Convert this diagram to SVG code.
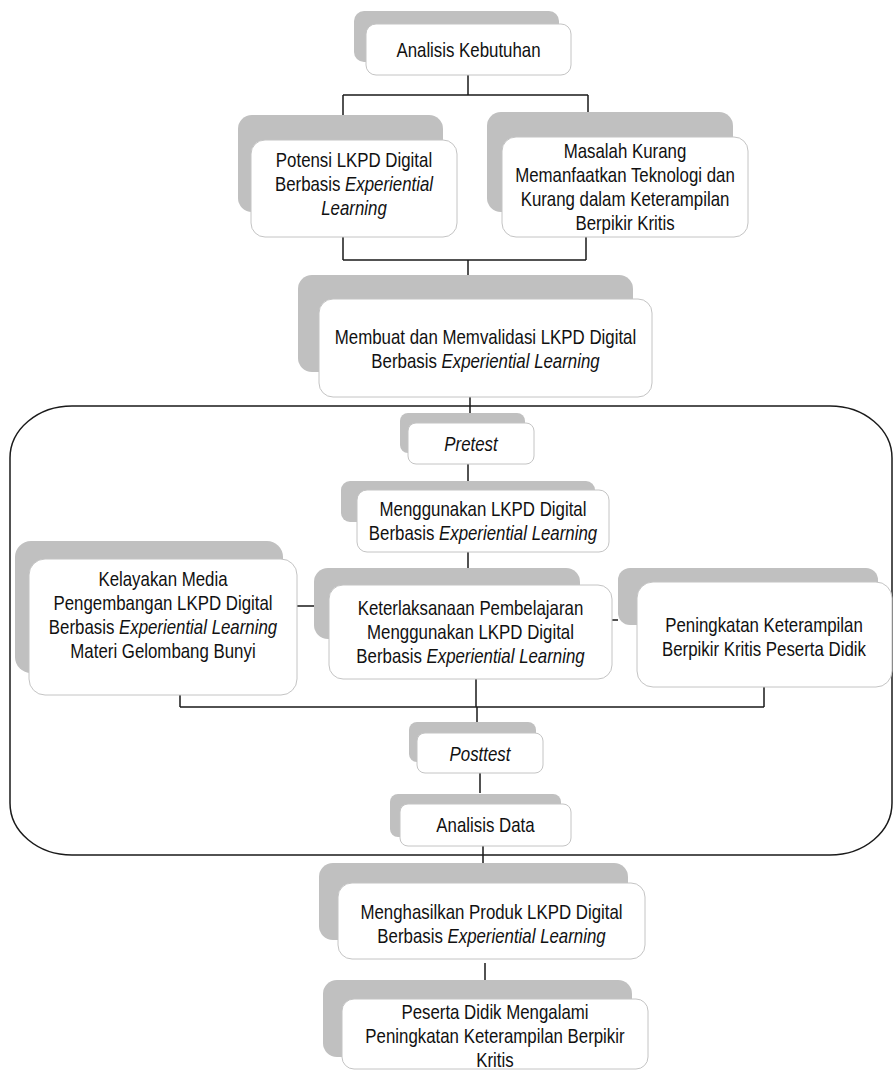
<svg xmlns="http://www.w3.org/2000/svg" width="893" height="1071" viewBox="0 0 893 1071">
<style>
.bk{fill:#c0c0c0;stroke:none}
.fr{fill:#ffffff;stroke:#c4c4c4;stroke-width:1}
.t{font-family:"Liberation Sans",Arial,sans-serif;font-size:20.3px;fill:#111;text-anchor:middle}
.i{font-style:italic}
.c{stroke:#1a1a1a;stroke-width:1.5;fill:none}
</style>
<rect width="893" height="1071" fill="#ffffff"/>
<g id="connectors">
<path class="c" d="M468 75V95M343 95H588M343 95V115M588 95V112"/>
<path class="c" d="M343 237V260M586 237V260M343 260H586M468 260V275"/>
<path class="c" d="M470 397V413M468 464V481M468 552V568"/>
<path class="c" d="M297 606H314M612 620H618"/>
<path class="c" d="M180 695V707M476 679V707M764 687V707M180 707H764M477 707V722"/>
<path class="c" d="M480 773V793M483 846V863M485 963V980"/>
</g>
<g id="container">
<rect x="10" y="406" width="882" height="449" rx="62" ry="52" fill="none" stroke="#1a1a1a" stroke-width="1.5"/>
</g>
<g id="n1">
<rect class="bk" x="354" y="11" width="205" height="51" rx="10"/>
<rect class="fr" x="366" y="24" width="205" height="51" rx="10"/>
<g transform="translate(468.5 0) scale(0.83 1)"><text class="t" x="0" y="57">Analisis Kebutuhan</text></g>
</g>
<g id="n2">
<rect class="bk" x="238" y="115" width="205" height="97" rx="14"/>
<rect class="fr" x="251" y="140" width="206" height="97" rx="14"/>
<g transform="translate(354 0) scale(0.83 1)">
<text class="t" x="0" y="167">Potensi LKPD Digital</text>
<text class="t" x="0" y="191">Berbasis <tspan class="i">Experiential</tspan></text>
<text class="t i" x="0" y="215">Learning</text>
</g>
</g>
<g id="n3">
<rect class="bk" x="487" y="112" width="246" height="100" rx="14"/>
<rect class="fr" x="502" y="137" width="246" height="100" rx="14"/>
<g transform="translate(625 0) scale(0.83 1)">
<text class="t" x="0" y="158">Masalah Kurang</text>
<text class="t" x="0" y="182">Memanfaatkan Teknologi dan</text>
<text class="t" x="0" y="206">Kurang dalam Keterampilan</text>
<text class="t" x="0" y="230">Berpikir Kritis</text>
</g>
</g>
<g id="n4">
<rect class="bk" x="298" y="275" width="335" height="97" rx="14"/>
<rect class="fr" x="319" y="299" width="333" height="98" rx="14"/>
<g transform="translate(485.5 0) scale(0.83 1)">
<text class="t" x="0" y="344">Membuat dan Memvalidasi LKPD Digital</text>
<text class="t" x="0" y="368">Berbasis <tspan class="i">Experiential Learning</tspan></text>
</g>
</g>
<g id="n5">
<rect class="bk" x="400" y="413" width="125" height="40" rx="8"/>
<rect class="fr" x="408" y="423" width="126" height="41" rx="8"/>
<g transform="translate(471 0) scale(0.83 1)"><text class="t i" x="0" y="451">Pretest</text></g>
</g>
<g id="n6">
<rect class="bk" x="341" y="481" width="254" height="41" rx="9"/>
<rect class="fr" x="357" y="490" width="252" height="62" rx="10"/>
<g transform="translate(483 0) scale(0.83 1)">
<text class="t" x="0" y="516">Menggunakan LKPD Digital</text>
<text class="t" x="0" y="540">Berbasis <tspan class="i">Experiential Learning</tspan></text>
</g>
</g>
<g id="n7">
<rect class="bk" x="15" y="541" width="268" height="132" rx="16"/>
<rect class="fr" x="29" y="559" width="268" height="136" rx="16"/>
<g transform="translate(163 0) scale(0.83 1)">
<text class="t" x="0" y="586">Kelayakan Media</text>
<text class="t" x="0" y="610">Pengembangan LKPD Digital</text>
<text class="t" x="0" y="634">Berbasis <tspan class="i">Experiential Learning</tspan></text>
<text class="t" x="0" y="658">Materi Gelombang Bunyi</text>
</g>
</g>
<g id="n8">
<rect class="bk" x="314" y="568" width="266" height="71" rx="14"/>
<rect class="fr" x="329" y="585" width="283" height="94" rx="14"/>
<g transform="translate(470.5 0) scale(0.83 1)">
<text class="t" x="0" y="615">Keterlaksanaan Pembelajaran</text>
<text class="t" x="0" y="639">Menggunakan LKPD Digital</text>
<text class="t" x="0" y="663">Berbasis <tspan class="i">Experiential Learning</tspan></text>
</g>
</g>
<g id="n9">
<rect class="bk" x="618" y="568" width="260" height="57" rx="12"/>
<rect class="fr" x="637" y="582" width="255" height="105" rx="16"/>
<g transform="translate(764 0) scale(0.83 1)">
<text class="t" x="0" y="632">Peningkatan Keterampilan</text>
<text class="t" x="0" y="656">Berpikir Kritis Peserta Didik</text>
</g>
</g>
<g id="n10">
<rect class="bk" x="409" y="722" width="127" height="40" rx="8"/>
<rect class="fr" x="417" y="733" width="126" height="40" rx="8"/>
<g transform="translate(480 0) scale(0.83 1)"><text class="t i" x="0" y="761">Posttest</text></g>
</g>
<g id="n11">
<rect class="bk" x="390" y="794" width="171" height="43" rx="8"/>
<rect class="fr" x="400" y="804" width="171" height="42" rx="8"/>
<g transform="translate(485.5 0) scale(0.83 1)"><text class="t" x="0" y="832">Analisis Data</text></g>
</g>
<g id="n12">
<rect class="bk" x="319" y="863" width="309" height="77" rx="14"/>
<rect class="fr" x="338" y="883" width="307" height="76" rx="14"/>
<g transform="translate(491.5 0) scale(0.83 1)">
<text class="t" x="0" y="919">Menghasilkan Produk LKPD Digital</text>
<text class="t" x="0" y="943">Berbasis <tspan class="i">Experiential Learning</tspan></text>
</g>
</g>
<g id="n13">
<rect class="bk" x="323" y="980" width="309" height="77" rx="14"/>
<rect class="fr" x="342" y="999" width="306" height="70" rx="12"/>
<g transform="translate(495 0) scale(0.83 1)">
<text class="t" x="0" y="1019">Peserta Didik Mengalami</text>
<text class="t" x="0" y="1043">Peningkatan Keterampilan Berpikir</text>
<text class="t" x="0" y="1067">Kritis</text>
</g>
</g>
</svg>
